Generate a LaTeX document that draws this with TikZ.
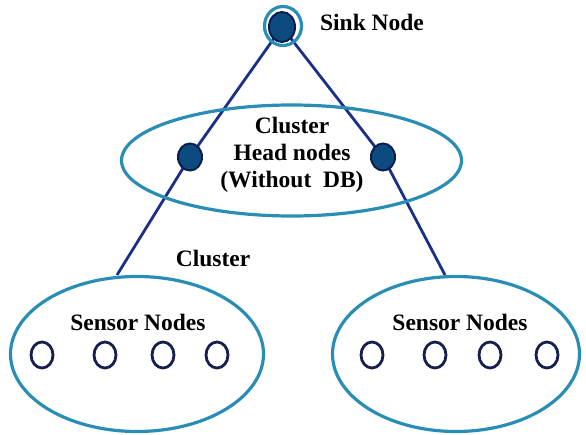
\documentclass[tikz,border=0pt]{standalone}
\usepackage{fontspec}
\setmainfont{Liberation Serif}
\usetikzlibrary{shapes.geometric,backgrounds}
\definecolor{ringteal}{HTML}{2A8DB5}
\definecolor{linknavy}{HTML}{1B2E88}
\definecolor{headfill}{HTML}{0D4A80}
\definecolor{headedge}{HTML}{0A1E4E}
\definecolor{sensoredge}{HTML}{15204F}
\tikzset{
  lbl/.style={font=\fontsize{23.5}{27}\selectfont\bfseries, align=center, inner sep=0pt},
  region/.style={ellipse, draw=ringteal, line width=3.2pt, inner sep=0pt},
  headnode/.style={ellipse, draw=headedge, fill=headfill, line width=2pt,
    minimum width=24pt, minimum height=27pt, inner sep=0pt},
  sensornode/.style={ellipse, draw=sensoredge, line width=2.8pt,
    minimum width=22pt, minimum height=26pt, inner sep=0pt},
  link/.style={draw=linknavy, line width=2.8pt},
}
\begin{document}
\begin{tikzpicture}[x=1pt, y=-1pt]
\useasboundingbox (0,0) rectangle (586,435);

% cluster regions
\node[region, minimum width=340pt, minimum height=111pt] (mid) at (291.5,160.5) {};
\node[region, minimum width=253pt, minimum height=155pt] (left) at (137,354) {};
\node[region, minimum width=247pt, minimum height=155pt] (right) at (456,354) {};

% sink node: outer ring and filled core
\node[ellipse, draw=ringteal, line width=3.2pt, minimum width=37pt, minimum height=39pt, inner sep=0pt] (sinkring) at (283,26) {};
\node[headnode, minimum width=26pt, minimum height=30pt] (sink) at (282,27) {};

% cluster heads
\node[headnode] (hl) at (190,157) {};
\node[headnode] (hr) at (383,157) {};

% attachment points on the lower regions
\coordinate (lt) at (117,275);
\coordinate (rt) at (445,275);

\begin{scope}[on background layer]
  \draw[link] (sink.center) -- (hl.center);
  \draw[link] (sink.center) -- (hr.center);
  \draw[link] (hl.center) -- (lt);
  \draw[link] (hr.center) -- (rt);
\end{scope}

% labels
\node[lbl] (sinklbl) at (372,22) {Sink Node};
\node[lbl] (headlbl) at (292,155) {Cluster\\Head nodes\\(Without~ DB)};
\node[lbl] (clusterlbl) at (213,258) {Cluster};
\node[lbl] (lsens) at (138,322) {Sensor Nodes};
\node[lbl] (rsens) at (460,322) {Sensor Nodes};

% sensor nodes
\foreach \x [count=\i] in {42,105,163,217} {
  \node[sensornode] (sl\i) at (\x,355) {};
}
\foreach \x [count=\i] in {372,435,490,547} {
  \node[sensornode] (sr\i) at (\x,355) {};
}
\end{tikzpicture}
\end{document}
